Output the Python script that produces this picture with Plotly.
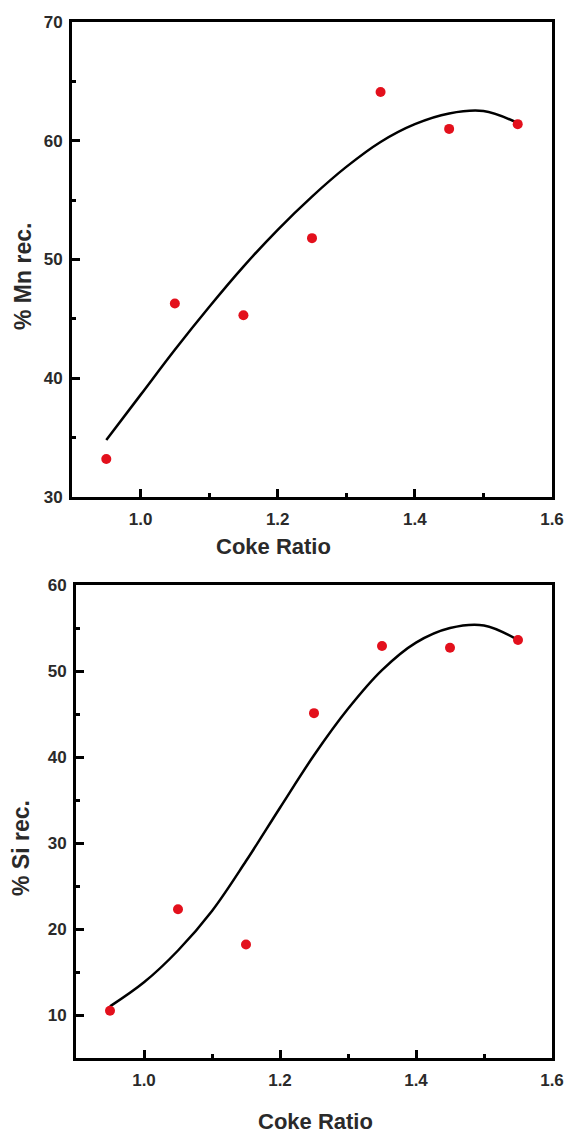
import plotly.graph_objects as go

# Data
coke_ratio = [0.95, 1.05, 1.15, 1.25, 1.35, 1.45, 1.55]
mn_rec = [33.2, 46.3, 45.3, 51.8, 64.1, 61.0, 61.4]
si_rec = [10.5, 22.3, 18.2, 45.1, 52.9, 52.7, 53.6]

fit_x = [0.95, 1.00, 1.05, 1.10, 1.15, 1.20, 1.25, 1.30, 1.35, 1.40, 1.45, 1.50, 1.55]
mn_fit = [34.8, 38.6, 42.4, 46.0, 49.4, 52.5, 55.3, 57.8, 59.9, 61.4, 62.3, 62.5, 61.5]
si_fit = [11.0, 13.8, 17.5, 22.1, 27.9, 34.1, 40.2, 45.6, 50.1, 53.3, 55.0, 55.3, 53.6]

x_ticks = [1.0, 1.2, 1.4, 1.6]
x_tick_labels = ["1.0", "1.2", "1.4", "1.6"]
mn_ticks = [30, 40, 50, 60, 70]
si_ticks = [10, 20, 30, 40, 50, 60]

W, H = 566, 1133
FONT = "Liberation Sans, Arial, sans-serif"
RED = "#e3101c"
TXT = "#2a2a2a"

fig = go.Figure()

fig.add_trace(go.Scatter(x=fit_x, y=mn_fit, mode="lines",
                         line=dict(color="black", width=2.5, shape="spline", smoothing=1.0),
                         xaxis="x", yaxis="y", showlegend=False, hoverinfo="skip"))
fig.add_trace(go.Scatter(x=coke_ratio, y=mn_rec, mode="markers", marker=dict(color=RED, size=10),
                         xaxis="x", yaxis="y", showlegend=False))
fig.add_trace(go.Scatter(x=fit_x, y=si_fit, mode="lines",
                         line=dict(color="black", width=2.5, shape="spline", smoothing=1.0),
                         xaxis="x2", yaxis="y2", showlegend=False, hoverinfo="skip"))
fig.add_trace(go.Scatter(x=coke_ratio, y=si_rec, mode="markers", marker=dict(color=RED, size=10),
                         xaxis="x2", yaxis="y2", showlegend=False))


def xax(domain, anchor):
    return dict(domain=domain, anchor=anchor, range=[0.9, 1.6], tickvals=x_ticks, ticktext=x_tick_labels,
                ticks="inside", ticklen=8, tickwidth=2.5, tickcolor="black",
                minor=dict(dtick=0.1, tick0=0.9, ticks="inside", ticklen=4, tickwidth=2.5, tickcolor="black"),
                showline=True, linewidth=3, linecolor="black", mirror=True, showgrid=False, zeroline=False,
                tickfont=dict(family=FONT, size=17, color=TXT, weight="bold"), automargin=False,
                ticklabelstandoff=5)


def yax(domain, anchor, rng, vals):
    return dict(domain=domain, anchor=anchor, range=rng, tickvals=vals,
                ticks="inside", ticklen=8, tickwidth=2.5, tickcolor="black",
                minor=dict(dtick=5, tick0=0, ticks="inside", ticklen=4, tickwidth=2.5, tickcolor="black"),
                showline=True, linewidth=3, linecolor="black", mirror=True, showgrid=False, zeroline=False,
                tickfont=dict(family=FONT, size=17, color=TXT, weight="bold"), automargin=False,
                ticklabelstandoff=3)


fig.update_layout(
    width=W, height=H,
    margin=dict(l=0, r=0, t=0, b=0),
    paper_bgcolor="white", plot_bgcolor="white",
    xaxis=xax([72 / W, 552 / W], "y"),
    yaxis=yax([1 - 497 / H, 1 - 22 / H], "x", [30, 70], mn_ticks),
    xaxis2=xax([76 / W, 552 / W], "y2"),
    yaxis2=yax([1 - 1058 / H, 1 - 585 / H], "x2", [5, 60], si_ticks),
    annotations=[
        dict(text="<b>Coke Ratio</b>", x=273 / W, y=1 - 546 / H, xref="paper", yref="paper",
             showarrow=False, font=dict(family=FONT, size=22, color=TXT), xanchor="center", yanchor="middle"),
        dict(text="<b>Coke Ratio</b>", x=315 / W, y=1 - 1121 / H, xref="paper", yref="paper",
             showarrow=False, font=dict(family=FONT, size=22, color=TXT), xanchor="center", yanchor="middle"),
        dict(text="<b>% Mn rec.</b>", x=23 / W, y=1 - 277 / H, xref="paper", yref="paper", textangle=-90,
             showarrow=False, font=dict(family=FONT, size=23, color=TXT), xanchor="center", yanchor="middle"),
        dict(text="<b>% Si rec.</b>", x=21 / W, y=1 - 848 / H, xref="paper", yref="paper", textangle=-90,
             showarrow=False, font=dict(family=FONT, size=23, color=TXT), xanchor="center", yanchor="middle"),
    ],
)

fig.write_html("out.html")
